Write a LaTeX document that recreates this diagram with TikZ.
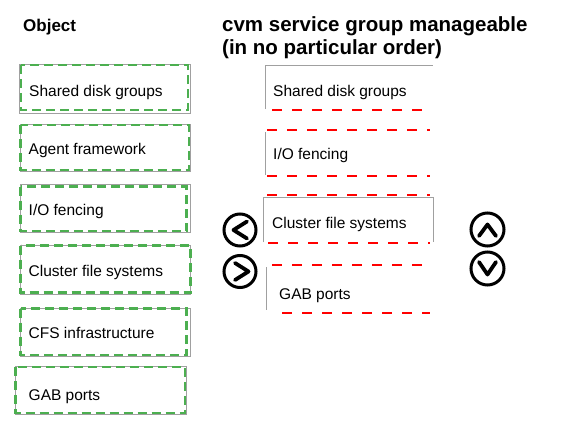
\documentclass[tikz,border=0pt]{standalone}
\usepackage{fontspec}
\setmainfont{Liberation Sans}
\definecolor{dashgreen}{RGB}{76,175,80}
\definecolor{boxgray}{RGB}{160,160,160}
\begin{document}
\begin{tikzpicture}[x=1pt,y=-1pt,
  graybox/.style={draw=boxgray, line width=0.9pt},
  greendash/.style={draw=dashgreen, line width=2.4pt, dash pattern=on 9pt off 5pt},
  reddash/.style={draw=red, line width=2pt, dash pattern=on 10pt off 10pt},
  lbl/.style={anchor=base west, inner sep=0pt, font=\fontsize{15.5}{18}\selectfont},
  head/.style={anchor=base west, inner sep=0pt, font=\bfseries\fontsize{20.5}{24}\selectfont},
  btn/.style={circle, draw=black, line width=3pt, inner sep=0pt},
  chev/.style={draw=black, line width=3.8pt, line cap=round, line join=round}]
\fill[white] (0,0) rectangle (563,439);
\useasboundingbox (0,0) rectangle (563,439);

% headings
\node[anchor=base west, inner sep=0pt, font=\bfseries\fontsize{17}{20}\selectfont] (obj) at (23,31.5) {Object};
\node[head] (h1) at (222,31) {cvm service group manageable};
\node[head] (h2) at (222,54) {(in no particular order)};

% left column
\draw[graybox] (19,64) rectangle (190,113);
\draw[greendash] (21,65) rectangle (188,110);
\node[lbl] (l1) at (29,96) {Shared disk groups};

\draw[graybox] (20,124) rectangle (190.5,171.5);
\draw[greendash] (20.5,125) rectangle (189,170);
\node[lbl] (l2) at (28.5,154) {Agent framework};

\draw[graybox] (20,184) rectangle (190,232);
\draw[greendash] (20.5,186.5) rectangle (186.5,231);
\node[lbl] (l3) at (28.5,215) {I/O fencing};

\draw[graybox] (20,245) rectangle (190,294);
\draw[greendash] (20.5,245.5) rectangle (190.5,292.5);
\node[lbl] (l4) at (28.5,276.5) {Cluster file systems};

\draw[graybox] (20,308) rectangle (190,356);
\draw[greendash] (20.5,308.5) rectangle (186.5,355);
\node[lbl] (l5) at (28.5,338) {CFS infrastructure};

\draw[graybox] (15,366) rectangle (186,414);
\draw[greendash] (15.5,367) rectangle (185,413);
\node[lbl] (l6) at (28.5,400.5) {GAB ports};

% right column
\draw[graybox] (265,109) -- (265,65) -- (433,65);
\draw[reddash] (272,110) -- (422,110);
\node[lbl] (r1) at (273,96) {Shared disk groups};

\draw[reddash] (267,130) -- (430,130);
\draw[graybox] (265,132) -- (265,175);
\draw[reddash] (267,176) -- (430,176);
\node[lbl] (r2) at (273,159) {I/O fencing};

\draw[reddash] (267,195) -- (430,195);
\draw[graybox] (263,242) -- (263,197) -- (433,197) -- (433,242);
\draw[reddash, line width=1.5pt] (268,243) -- (430,243);
\node[lbl] (r3) at (272,228) {Cluster file systems};

\draw[reddash] (272,265) -- (423,265);
\draw[graybox] (266,267) -- (266,310);
\draw[reddash] (282,313) -- (430,313);
\node[lbl] (r4) at (279,299) {GAB ports};

% buttons
\node[btn, minimum size=32pt] (bl) at (240,230) {};
\node[btn, minimum size=32pt] (br) at (240,271.5) {};
\node[btn, minimum size=33pt] (bu) at (487.5,229.5) {};
\node[btn, minimum size=33pt] (bd) at (487.5,268.5) {};
\draw[chev] (247,221.5) -- (233.5,230) -- (247,238.5);
\draw[chev] (235,263) -- (248.5,271.5) -- (235,280);
\draw[chev] (479,236) -- (487.5,224.5) -- (496,236);
\draw[chev] (479,262) -- (487.5,274.5) -- (496,262);
\end{tikzpicture}
\end{document}
